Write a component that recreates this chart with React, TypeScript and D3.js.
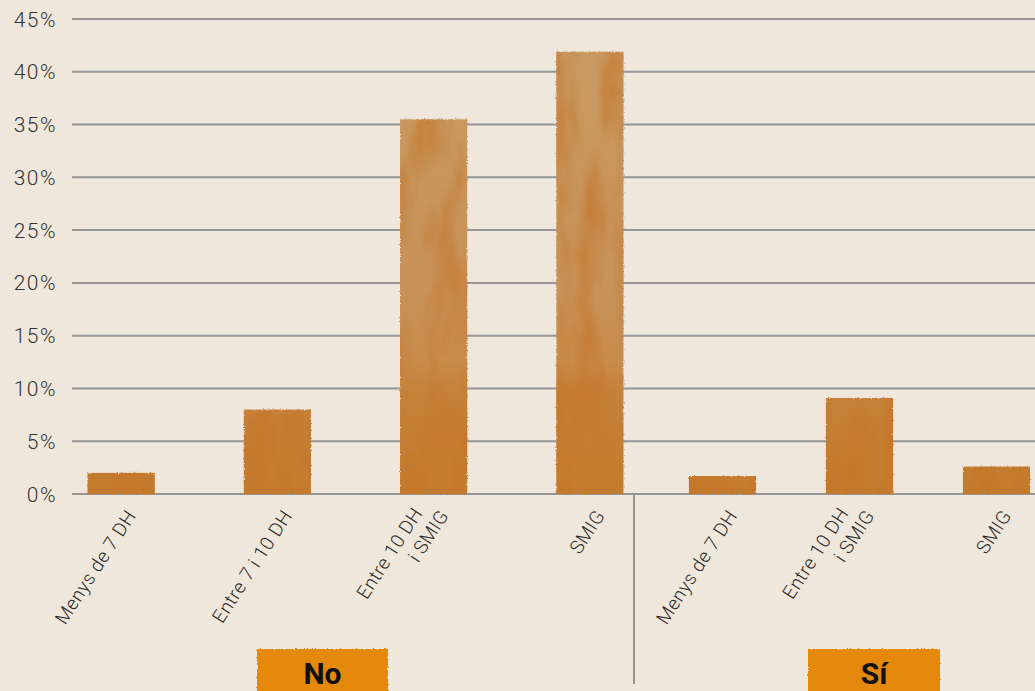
import React from "react";
import * as d3 from "d3";

// ---------- data ----------
const groupNames = ["No", "Sí"];
const noCategories = ["Menys de 7 DH", "Entre 7 i 10 DH", "Entre 10 DH\ni SMIG", "SMIG"];
const noValues = [2.0, 8.0, 35.5, 41.9];
const siCategories = ["Menys de 7 DH", "Entre 10 DH\ni SMIG", "SMIG"];
const siValues = [1.7, 9.1, 2.6];
const yTicks = [0, 5, 10, 15, 20, 25, 30, 35, 40, 45];

const W = 1035;
const H = 691;
const BG = "#efe7dc";
const GRID = "#959595";
const BOX = "#e5890d";

const y = d3.scaleLinear().domain([0, 45]).range([494, 19]);

const groups = [
  { name: groupNames[0], cats: noCategories, vals: noValues, range: [43, 668] as [number, number], pad: 0.57, box: [257, 388] },
  { name: groupNames[1], cats: siCategories, vals: siValues, range: [654, 1065] as [number, number], pad: 0.51, box: [808, 940] },
];

const dividerX = 634;
const gridX0 = 72;
const ANGLE = -57;

export default function App() {
  const font = "Roboto, 'Open Sans', sans-serif";
  return (
    <svg
      width={W}
      height={H}
      viewBox={`0 0 ${W} ${H}`}
      style={{ position: "absolute", left: 0, top: 0, background: BG }}
    >
      <defs>
        <linearGradient id="barGrad" gradientUnits="userSpaceOnUse" x1="0" y1={y(45)} x2="0" y2={y(0)}>
          <stop offset="0" stopColor="#c89c68" />
          <stop offset="0.2" stopColor="#c8985f" />
          <stop offset="0.55" stopColor="#c8925a" />
          <stop offset="0.72" stopColor="#c88c4c" />
          <stop offset="0.78" stopColor="#c6813a" />
          <stop offset="1" stopColor="#c47b2d" />
        </linearGradient>
        <filter id="wc" x="-5%" y="-5%" width="110%" height="110%" colorInterpolationFilters="sRGB">
          <feTurbulence type="fractalNoise" baseFrequency="0.035 0.012" numOctaves="3" seed="4" result="n" />
          <feColorMatrix
            in="n"
            type="matrix"
            values="0 0 0 0 0.77  0 0 0 0 0.45  0 0 0 0 0.15  0 0 0 1.5 -0.6"
            result="stain"
          />
          <feComposite in="stain" in2="SourceGraphic" operator="in" result="stainIn" />
          <feMerge result="merged">
            <feMergeNode in="SourceGraphic" />
            <feMergeNode in="stainIn" />
          </feMerge>
          <feTurbulence type="fractalNoise" baseFrequency="0.7" numOctaves="1" seed="7" result="fine" />
          <feDisplacementMap in="merged" in2="fine" scale="3" xChannelSelector="R" yChannelSelector="G" />
        </filter>
        <filter id="rough" x="-5%" y="-5%" width="110%" height="110%" colorInterpolationFilters="sRGB">
          <feTurbulence type="fractalNoise" baseFrequency="0.7" numOctaves="1" seed="2" result="fine" />
          <feDisplacementMap in="SourceGraphic" in2="fine" scale="3" xChannelSelector="R" yChannelSelector="G" />
        </filter>
      </defs>

      <rect x={0} y={0} width={W} height={H} fill={BG} />

      {/* gridlines + y ticks */}
      {yTicks.map((t) => (
        <g key={t}>
          <line x1={gridX0} x2={W} y1={y(t)} y2={y(t)} stroke={GRID} strokeWidth={2} />
          <text
            x={57}
            y={y(t)}
            dy="0.36em"
            textAnchor="end"
            fontFamily={font}
            fontWeight={300}
            fontSize={21}
            letterSpacing={1.5}
            fill="#333"
          >
            {t}%
          </text>
        </g>
      ))}

      {/* divider */}
      <line x1={dividerX} x2={dividerX} y1={y(0)} y2={684} stroke={GRID} strokeWidth={2} />

      {groups.map((g) => {
        const x = d3.scaleBand<string>().domain(g.cats).range(g.range).paddingInner(g.pad).paddingOuter(g.pad / 2);
        return (
          <g key={g.name}>
            {g.cats.map((c, i) => {
              const x0 = x(c)!;
              const cx = x0 + x.bandwidth() / 2;
              const lines = c.split("\n");
              const n = lines.length;
              return (
                <g key={c}>
                  <rect
                    x={x0}
                    y={y(g.vals[i])}
                    width={x.bandwidth()}
                    height={y(0) - y(g.vals[i])}
                    fill="url(#barGrad)"
                    filter="url(#wc)"
                  />
                  <text
                    transform={`translate(${cx + 10},${512}) rotate(${ANGLE})`}
                    textAnchor="end"
                    fontFamily={font}
                    fontWeight={300}
                    fontSize={19}
                    letterSpacing={0.4}
                    fill="#2a2a2a"
                  >
                    {lines.map((ln, k) => {
                      const back = n - 1 - k; // lines before the last are shifted up-left
                      return (
                        <tspan key={k} x={-12 * back} y={-23 * back} dy="0.35em">
                          {ln}
                        </tspan>
                      );
                    })}
                  </text>
                </g>
              );
            })}
            <rect
              x={g.box[0]}
              y={649}
              width={g.box[1] - g.box[0]}
              height={60}
              fill={BOX}
              filter="url(#rough)"
            />
            <text
              x={(g.box[0] + g.box[1]) / 2}
              y={684}
              textAnchor="middle"
              fontFamily={font}
              fontWeight={700}
              fontSize={30}
              fill="#111"
            >
              {g.name}
            </text>
          </g>
        );
      })}
    </svg>
  );
}
